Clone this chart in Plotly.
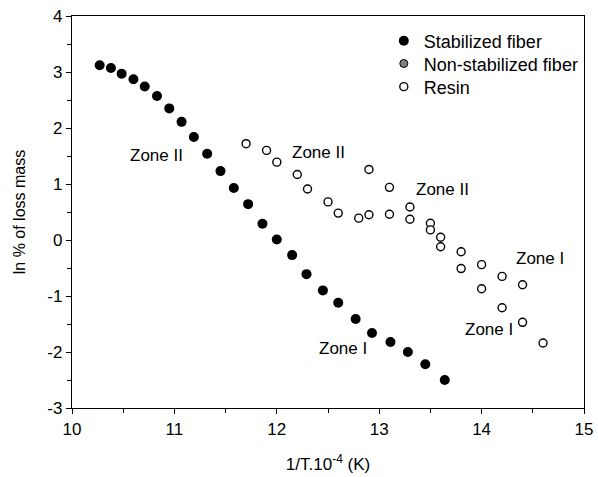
import plotly.graph_objects as go

# Stabilized fiber
stab_x = [10.27, 10.38, 10.485, 10.60, 10.71, 10.83, 10.95, 11.07, 11.19, 11.32, 11.45, 11.58,
          11.72, 11.86, 12.00, 12.15, 12.29, 12.45, 12.60, 12.77, 12.93, 13.11, 13.28, 13.45, 13.64]
stab_y = [3.12, 3.07, 2.97, 2.87, 2.74, 2.57, 2.35, 2.11, 1.84, 1.54, 1.23, 0.93,
          0.64, 0.29, 0.01, -0.27, -0.61, -0.90, -1.12, -1.41, -1.66, -1.82, -2.00, -2.22, -2.50]

# Non-stabilized fiber (legend only in the reference)
nonstab_x = [None]
nonstab_y = [None]

# Resin
resin_x = [11.70, 11.90, 12.00, 12.20, 12.30, 12.50, 12.60, 12.80, 12.90, 12.90, 13.10, 13.10,
           13.30, 13.30, 13.50, 13.50, 13.60, 13.60, 13.80, 13.80, 14.00, 14.00, 14.20, 14.20,
           14.40, 14.40, 14.60]
resin_y = [1.72, 1.60, 1.39, 1.17, 0.91, 0.68, 0.48, 0.39, 0.45, 1.26, 0.94, 0.46,
           0.59, 0.37, 0.30, 0.18, 0.05, -0.12, -0.21, -0.51, -0.44, -0.87, -0.65, -1.21,
           -0.80, -1.47, -1.84]

# Tick labels
x_ticks = [10, 11, 12, 13, 14, 15]
x_ticklabels = ["10", "11", "12", "13", "14", "15"]
y_ticks = [-3, -2, -1, 0, 1, 2, 3, 4]
y_ticklabels = ["-3", "-2", "-1", "0", "1", "2", "3", "4"]

# Zone annotations
zone_text = ["Zone II", "Zone II", "Zone II", "Zone I", "Zone I", "Zone I"]
zone_x = [10.83, 12.41, 13.62, 14.57, 14.07, 12.65]
zone_y = [1.51, 1.57, 0.91, -0.33, -1.60, -1.94]

FONT = "Liberation Sans, Arial, sans-serif"
FS = 17
LEG_FS = 18

fig = go.Figure()
fig.add_trace(go.Scatter(x=stab_x, y=stab_y, mode="markers", name="Stabilized fiber",
                         legend="legend",
                         marker=dict(size=10, color="black", line=dict(width=0))))
fig.add_trace(go.Scatter(x=nonstab_x, y=nonstab_y, mode="markers", name="Non-stabilized fiber",
                         legend="legend2",
                         marker=dict(size=8, color="#808080", line=dict(width=1, color="black"))))
fig.add_trace(go.Scatter(x=resin_x, y=resin_y, mode="markers", name="Resin",
                         legend="legend3",
                         marker=dict(size=8, color="white", line=dict(width=1.4, color="black"))))

for t, xx, yy in zip(zone_text, zone_x, zone_y):
    fig.add_annotation(x=xx, y=yy, text=t, showarrow=False,
                       font=dict(family=FONT, size=FS, color="black"))

axis_common = dict(showgrid=False, zeroline=False, showline=True, linecolor="black",
                   linewidth=1.3, mirror=True, ticks="outside", ticklen=5, tickwidth=1,
                   tickcolor="black", tickfont=dict(family=FONT, size=FS, color="black"),
                   automargin=False)

fig.update_xaxes(range=[10, 15], tickmode="array", tickvals=x_ticks, ticktext=x_ticklabels,
                 minor=dict(ticks="outside", ticklen=4, dtick=0.5, tickcolor="black", tickwidth=1),
                 title=dict(text="1/T.10<sup>-4</sup> (K)", font=dict(family=FONT, size=FS, color="black"),
                            standoff=20),
                 **axis_common)
fig.update_yaxes(range=[-3, 4], tickmode="array", tickvals=y_ticks, ticktext=y_ticklabels,
                 minor=dict(ticks="outside", ticklen=4, dtick=0.5, tickcolor="black", tickwidth=1),
                 title=dict(text="ln % of loss mass", font=dict(family=FONT, size=FS - 1, color="black"),
                            standoff=17),
                 **axis_common)

leg_common = dict(x=0.609, xanchor="left", yanchor="middle", bgcolor="rgba(0,0,0,0)",
                  font=dict(family=FONT, size=LEG_FS, color="black"), borderwidth=0,
                  itemwidth=30)

fig.update_layout(
    width=598, height=477,
    margin=dict(l=72, r=14, t=16, b=69),
    plot_bgcolor="white", paper_bgcolor="white",
    font=dict(family=FONT, size=FS, color="black"),
    legend=dict(y=0.936, **leg_common),
    legend2=dict(y=0.878, **leg_common),
    legend3=dict(y=0.819, **leg_common),
    showlegend=True,
)

fig.write_html("out.html")
